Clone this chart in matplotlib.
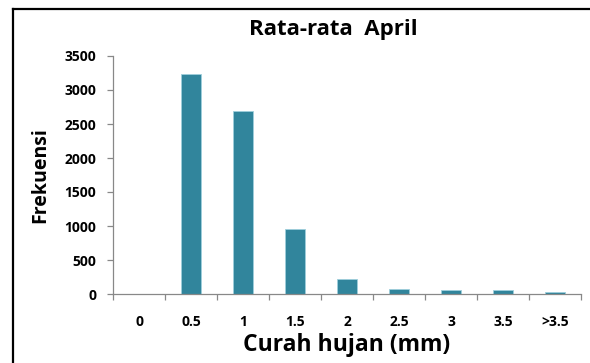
import matplotlib
matplotlib.use('Agg')
import matplotlib.pyplot as plt
from matplotlib.lines import Line2D

# Rainfall classes and their frequencies (April average)
categories = ['0', '0.5', '1', '1.5', '2', '2.5', '3', '3.5', '>3.5']
frequency = [5, 3235, 2687, 950, 215, 73, 54, 55, 30]
y_ticks = [0, 500, 1000, 1500, 2000, 2500, 3000, 3500]

plt.rcParams['font.family'] = ['Open Sans', 'DejaVu Sans']

fig = plt.figure(figsize=(5.9, 3.63), dpi=100)
ax = fig.add_axes([113 / 590, 1 - 294 / 363, 468 / 590, 238 / 363])

x = range(len(categories))
ax.bar(x, frequency, width=0.4, color='#31859C', edgecolor='#9fcfdc', linewidth=0.6)

ax.set_xlim(-0.5, len(categories) - 0.5)
ax.set_ylim(0, 3500)
ax.set_yticks(y_ticks)
ax.set_yticklabels([str(v) for v in y_ticks], fontsize=10, fontweight='bold')
ax.set_xticks(x)
ax.set_xticklabels(categories, fontsize=10, fontweight='bold')
ax.set_xticks([i - 0.5 for i in range(len(categories) + 1)], minor=True)

for side in ['top', 'right']:
    ax.spines[side].set_visible(False)
for side in ['left', 'bottom']:
    ax.spines[side].set_color('#888888')
    ax.spines[side].set_linewidth(0.9)

ax.tick_params(axis='x', which='major', length=0, pad=15)
ax.tick_params(axis='x', which='minor', length=4, color='#888888', width=0.9, direction='out')
ax.tick_params(axis='y', length=4, color='#888888', width=0.9, direction='out', pad=8)

fig.text(333 / 590, 1 - 30 / 363, 'Rata-rata  April', fontsize=16, fontweight='bold',
         ha='center', va='center')
ax.set_ylabel('Frekuensi', fontsize=14, fontweight='bold')
ax.yaxis.set_label_coords(-0.135, 0.5)
ax.set_xlabel('Curah hujan (mm)', fontsize=16.5, fontweight='bold')
ax.xaxis.set_label_coords(0.5, -0.165)

# outer chart frame (only top and left edges are visible in the crop)
fig.add_artist(Line2D([12.5 / 590, 12.5 / 590], [0, 1 - 8.5 / 363], transform=fig.transFigure,
                      color='black', linewidth=1.6))
fig.add_artist(Line2D([12.5 / 590, 1], [1 - 8.5 / 363, 1 - 8.5 / 363], transform=fig.transFigure,
                      color='black', linewidth=1.6))

fig.savefig('out.png', dpi=100)
